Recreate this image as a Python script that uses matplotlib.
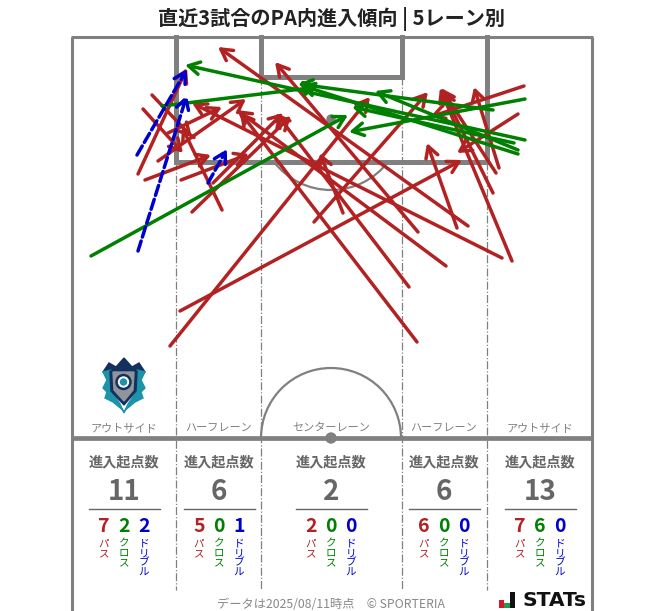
import matplotlib
matplotlib.use("Agg")
import matplotlib.pyplot as plt
from matplotlib.patches import Arc, Circle, Polygon, Rectangle

plt.rcParams['font.family'] = ['Noto Sans CJK JP', 'DejaVu Sans']

RED = '#b22222'
GREEN = '#008000'
BLUE = '#0000cd'
LINE = '#808080'
TEXT = '#666666'

# start x, start y, end x, end y (picture units)
passes = [
    (138, 174, 187, 68), (152, 95, 192, 137), (143, 109, 183, 153),
    (222, 210, 182, 127), (145, 180, 211, 155), (181, 180, 249, 154),
    (158, 161, 246, 99), (168, 133, 222, 107), (192, 212, 291, 116),
    (213, 183, 283, 113), (417, 342, 240, 112), (409, 287, 276, 113),
    (446, 266, 237, 110), (418, 232, 275, 62), (502, 258, 192, 103),
    (512, 261, 440, 88), (468, 226, 218, 47), (457, 228, 427, 143),
    (343, 213, 320, 153), (314, 222, 428, 92), (170, 346, 370, 97),
    (180, 311, 462, 160), (518, 114, 457, 153), (524, 86, 430, 117),
    (499, 168, 474, 87), (496, 173, 441, 88), (493, 193, 442, 90),
]
crosses = [
    (91, 256, 348, 115), (525, 140, 185, 65), (162, 106, 318, 87),
    (525, 99, 349, 132), (518, 154, 300, 85), (514, 143, 352, 107),
    (518, 150, 375, 91), (493, 110, 298, 84),
]
dribbles = [(137, 155, 187, 69), (138, 251, 187, 95), (208, 183, 227, 149)]

lane_names = ['アウトサイド', 'ハーフレーン', 'センターレーン', 'ハーフレーン', 'アウトサイド']
lane_x = [124, 219, 331, 444, 540]
lane_total = [11, 6, 2, 6, 13]
lane_pass = [7, 5, 2, 6, 7]
lane_cross = [2, 0, 0, 0, 6]
lane_dribble = [2, 1, 0, 0, 0]


def arrows(ax, rows, color, ls='-'):
    for x0, y0, x1, y1 in rows:
        ax.annotate('', xy=(x1, y1), xytext=(x0, y0),
                    arrowprops=dict(arrowstyle='->,head_length=0.8,head_width=0.45',
                                    mutation_scale=10, color=color, lw=2.5, ls=ls,
                                    shrinkA=0, shrinkB=0))


def pitch(ax):
    # outer box, goes off the bottom
    ax.plot([71.7, 71.7], [37, 611], color=LINE, lw=2.2, solid_capstyle='butt')
    ax.plot([591.5, 591.5], [37, 611], color=LINE, lw=2.2, solid_capstyle='butt')
    ax.plot([70.5, 592.7], [37, 37], color=LINE, lw=2.2, solid_capstyle='butt')
    ax.plot([71, 592], [438, 438], color=LINE, lw=3.4, solid_capstyle='butt')
    # penalty box, goal area
    ax.plot([176, 176, 487, 487], [37, 162, 162, 37], color=LINE, lw=3.6, solid_joinstyle='miter')
    ax.plot([261, 261, 402, 402], [37, 77, 77, 37], color=LINE, lw=3.6, solid_joinstyle='miter')
    # lanes
    for x, top in [(176, 162), (261, 77), (402, 77), (487, 162)]:
        ax.plot([x, x], [top, 590], color=LINE, lw=0.9, ls='-.', zorder=1)
    ax.add_patch(Arc((331, 438), 140, 140, theta1=180, theta2=360, color=LINE, lw=1.6))
    ax.add_patch(Arc((331, 118), 144, 144, theta1=37.6, theta2=142.4, color=LINE, lw=1.6))
    ax.add_patch(Circle((331, 438), 5, color=LINE))
    ax.add_patch(Circle((331, 119), 4, color=LINE))


def crest(ax):
    navy = '#14305f'
    teal = '#1b93a8'
    ax.add_patch(Polygon([(103, 372), (109, 363), (116, 367), (124, 358), (132, 367),
                          (139, 363), (145, 372), (138, 378), (110, 378)], color=navy))
    ax.add_patch(Polygon([(103, 372), (111, 370), (112, 392), (120, 404), (124, 413),
                          (128, 404), (136, 392), (137, 370), (145, 372), (141, 380),
                          (145, 388), (141, 392), (143, 398), (135, 402), (124, 411),
                          (113, 402), (105, 398), (107, 392), (103, 388), (107, 380)], color=teal))
    ax.add_patch(Polygon([(110, 371), (137, 371), (136, 391), (124, 405), (111, 391)], color=navy))
    ax.add_patch(Polygon([(113, 372), (134, 372), (133, 390), (124, 401), (114, 390)], color='#8f959b'))
    ax.add_patch(Circle((123.5, 382), 7.5, color=navy))
    ax.add_patch(Circle((123.5, 382), 5, color='white'))
    ax.add_patch(Circle((123.5, 382), 3, color=teal))


def logo(ax):
    ax.add_patch(Rectangle((499, 600), 5, 8, color='#d2182a', lw=0))
    ax.add_patch(Rectangle((504, 603), 6, 5, color='#1e9b4b', lw=0))
    ax.add_patch(Rectangle((510, 592), 5, 16, color='#111111', lw=0))
    ax.text(522, 600, 'STATs', fontsize=14.6, fontweight='bold', color='#111111',
            ha='left', va='center', family=['DejaVu Sans'])


def main():
    fig = plt.figure(figsize=(6.63, 6.11), dpi=100)
    ax = fig.add_axes([0, 0, 1, 1])
    ax.set_xlim(0, 663)
    ax.set_ylim(611, 0)
    ax.axis('off')

    pitch(ax)
    arrows(ax, passes, RED)
    arrows(ax, crosses, GREEN)
    arrows(ax, dribbles, BLUE, ls=(0, (3, 1.2)))
    crest(ax)

    ax.text(331, 19, '直近3試合のPA内進入傾向 | 5レーン別', fontsize=14.5, fontweight='bold',
            color='#222222', ha='center', va='center')

    for i, cx in enumerate(lane_x):
        ax.text(cx, 428, lane_names[i], fontsize=8, color=LINE, ha='center', va='center')
        ax.text(cx, 462, '進入起点数', fontsize=10.2, fontweight='bold', color=TEXT, ha='center', va='center')
        ax.text(cx, 492, str(lane_total[i]), fontsize=20, fontweight='bold', color=TEXT, ha='center', va='center')
        ax.plot([cx - 35.5, cx + 35.5], [508.5, 508.5], color=TEXT, lw=1)
        parts = [(lane_pass[i], 'パス', RED), (lane_cross[i], 'クロス', GREEN), (lane_dribble[i], 'ドリブル', BLUE)]
        for j, (val, name, col) in enumerate(parts):
            x = cx - 20 + j * 20
            ax.text(x, 526, str(val), fontsize=14, fontweight='bold', color=col, ha='center', va='center')
            ax.text(x, 538.5, '\n'.join(name), fontsize=7.6, color=col, ha='center', va='top', linespacing=0.95)

    ax.text(331, 604, 'データは2025/08/11時点　© SPORTERIA', fontsize=8.8, color='#888888', ha='center', va='center')
    logo(ax)

    fig.savefig('out.png', dpi=100)


if __name__ == "__main__":
    main()
